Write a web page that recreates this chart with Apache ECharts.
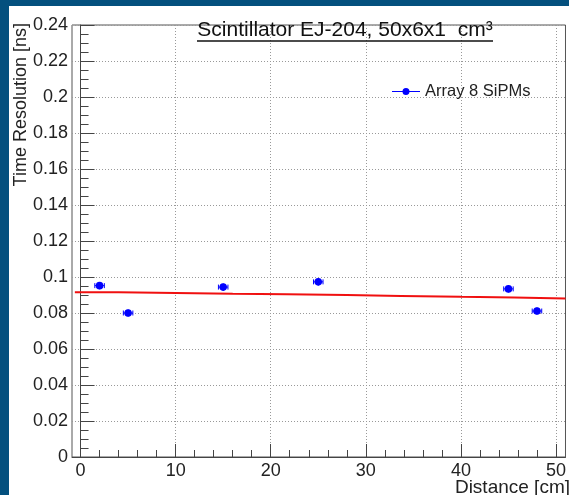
<!DOCTYPE html>
<html>
<head>
<meta charset="utf-8">
<script src="https://cdn.jsdelivr.net/npm/echarts@6/dist/echarts.min.js"></script>
<style>
  html, body { margin: 0; padding: 0; background: #04507e; }
  #main { width: 569px; height: 495px; }
</style>
</head>
<body>
<div id="main"></div>
<script>
// measured points
const distance = [2, 5, 15, 25, 45, 48];
const resolution = [0.0952, 0.0800, 0.0944, 0.0973, 0.0934, 0.0811];
const distanceErr = [0.5, 0.5, 0.5, 0.5, 0.5, 0.5];
const resolutionErr = [0.002, 0.002, 0.002, 0.002, 0.002, 0.002];

// linear fit, drawn as steps like ROOT does
const fitEdges = [-0.6, 4, 10, 16, 21.7, 28, 33.7, 40, 45.6, 51];
const fitValues = [0.0915, 0.0911, 0.0907, 0.0904, 0.0900, 0.0895, 0.0890, 0.0886, 0.0881];

const xMajorTicks = [0, 10, 20, 30, 40, 50];
const xMinorTicks = [2, 4, 6, 8, 12, 14, 16, 18, 22, 24, 26, 28, 32, 34, 36, 38, 42, 44, 46, 48];

const chart = echarts.init(document.getElementById("main"));

const pointData = distance.map((d, i) => [d, resolution[i], distanceErr[i], resolutionErr[i]]);
const fitData = fitEdges.map((x, i) => [x, fitValues[Math.min(i, fitValues.length - 1)]]);

const font = "Liberation Sans, Arial, sans-serif";
const blue = "#0000ff";

const option = {
  backgroundColor: "#04507e",
  animation: false,
  textStyle: { fontFamily: font },
  grid: {
    left: 72,
    top: 25,
    width: 498,
    height: 432,
    show: true,
    backgroundColor: "#fff",
    borderColor: "#555",
    borderWidth: 1,
  },
  graphic: [
    {
      type: "rect",
      left: 9,
      top: 6,
      z: -10,
      shape: { width: 560, height: 489 },
      style: { fill: "#fff" },
    },
    {
      type: "text",
      x: 345,
      y: 30,
      z: 100,
      style: {
        text: "Scintillator EJ-204, 50x6x1  cm³",
        font: "21px " + font,
        fill: "#111",
        align: "center",
        verticalAlign: "middle",
      },
    },
    {
      type: "line",
      z: 100,
      shape: { x1: 197, y1: 41, x2: 493, y2: 41 },
      style: { stroke: "#111", lineWidth: 1.5 },
    },
    {
      type: "text",
      x: 21,
      y: 23,
      rotation: Math.PI / 2,
      style: {
        text: "Time Resolution [ns]",
        font: "18px " + font,
        fill: "#222",
        align: "right",
        verticalAlign: "middle",
      },
    },
    {
      type: "text",
      x: 570,
      y: 488,
      style: {
        text: "Distance [cm]",
        font: "19px " + font,
        fill: "#222",
        align: "right",
        verticalAlign: "middle",
      },
    },
  ],
  legend: {
    left: 392,
    top: 83,
    padding: 0,
    itemWidth: 28,
    itemHeight: 8,
    itemGap: 5,
    textStyle: { fontSize: 16.5, color: "#222", fontFamily: font },
    data: [
      {
        name: "Array 8 SiPMs",
        icon: "path://M0,3.5L28,3.5L28,4.5L0,4.5Z M14,0.5A3.5,3.5,0,1,1,13.99,0.5Z",
        itemStyle: { color: blue },
      },
    ],
  },
  xAxis: [
    {
      type: "value",
      min: -0.9,
      max: 51,
      axisLine: { show: true, lineStyle: { color: "#444" } },
      axisTick: {
        show: true,
        inside: true,
        length: 13,
        customValues: xMajorTicks,
        lineStyle: { color: "#444" },
      },
      axisLabel: {
        customValues: xMajorTicks,
        fontSize: 18,
        color: "#222",
        margin: 5,
      },
      splitLine: {
        show: true,
        customValues: xMajorTicks,
        lineStyle: { color: "#999", type: [1, 2] },
      },
    },
    {
      type: "value",
      min: -0.9,
      max: 51,
      position: "bottom",
      axisLine: { show: false },
      axisTick: {
        show: true,
        inside: true,
        length: 7,
        customValues: xMinorTicks,
        lineStyle: { color: "#444" },
      },
      axisLabel: { show: false },
      splitLine: { show: false },
    },
  ],
  yAxis: {
    type: "value",
    min: 0,
    max: 0.24,
    interval: 0.02,
    axisLine: { show: true, lineStyle: { color: "#444" } },
    axisTick: { show: true, inside: true, length: 14, lineStyle: { color: "#444" } },
    minorTick: { show: true, splitNumber: 4, length: 8, lineStyle: { color: "#444" } },
    axisLabel: { fontSize: 18, color: "#222", margin: 4 },
    splitLine: { show: true, lineStyle: { color: "#999", type: [1, 2] } },
  },
  series: [
    {
      name: "fit",
      type: "line",
      step: "end",
      data: fitData,
      showSymbol: false,
      clip: false,
      lineStyle: { color: "#f01010", width: 2 },
      z: 3,
    },
    {
      name: "Array 8 SiPMs",
      type: "custom",
      data: pointData,
      z: 4,
      encode: { x: 0, y: 1 },
      renderItem: (params, api) => {
        const x = api.value(0);
        const y = api.value(1);
        const ex = api.value(2);
        const ey = api.value(3);
        const c = api.coord([x, y]);
        const l = api.coord([x - ex, y]);
        const r = api.coord([x + ex, y]);
        const t = api.coord([x, y + ey]);
        const b = api.coord([x, y - ey]);
        const st = { stroke: blue, lineWidth: 1 };
        return {
          type: "group",
          children: [
            { type: "line", shape: { x1: l[0], y1: l[1], x2: r[0], y2: r[1] }, style: st },
            { type: "line", shape: { x1: l[0], y1: l[1] - 2.5, x2: l[0], y2: l[1] + 2.5 }, style: st },
            { type: "line", shape: { x1: r[0], y1: r[1] - 2.5, x2: r[0], y2: r[1] + 2.5 }, style: st },
            { type: "line", shape: { x1: t[0], y1: t[1], x2: b[0], y2: b[1] }, style: st },
            { type: "circle", shape: { cx: c[0], cy: c[1], r: 3.8 }, style: { fill: blue } },
          ],
        };
      },
    },
  ],
};

chart.setOption(option);
</script>
</body>
</html>
